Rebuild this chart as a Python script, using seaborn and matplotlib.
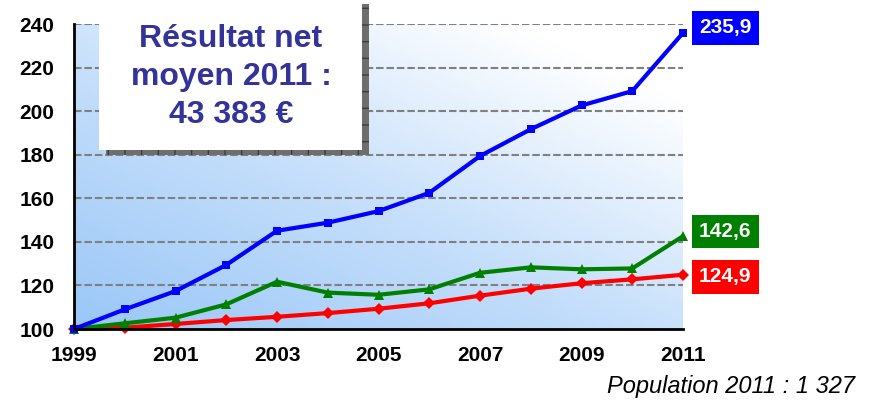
import numpy as np
import pandas as pd
import matplotlib
matplotlib.use("Agg")
import matplotlib.pyplot as plt
from matplotlib.patches import Rectangle
from matplotlib.colors import LinearSegmentedColormap
import seaborn as sns

# --- data -----------------------------------------------------------------
years = list(range(1999, 2012))
indice_bleu = [100, 109.0, 117.4, 129.4, 145.1, 148.8, 154.1, 162.5,
               179.4, 191.7, 202.6, 209.2, 235.9]
indice_vert = [100, 102.6, 105.2, 111.3, 121.7, 116.7, 115.7, 118.2,
               125.8, 128.3, 127.4, 127.8, 142.6]
indice_rouge = [100, 100.6, 102.3, 104.1, 105.6, 107.3, 109.3, 111.8,
                115.3, 118.5, 121.0, 122.8, 124.9]
y_ticks = [100, 120, 140, 160, 180, 200, 220, 240]
x_labels = [str(y) if (y - 1999) % 2 == 0 else "" for y in years]
encadre = "Résultat net\nmoyen 2011 :\n43 383 €"
note = "Population 2011 : 1 327"

sns.set_theme(style="white")
plt.rcParams["font.family"] = ["Liberation Sans", "DejaVu Sans"]
plt.rcParams["hatch.linewidth"] = 1.0

W, H = 881, 403
fig = plt.figure(figsize=(W / 100, H / 100), dpi=100)
ax = fig.add_axes([74 / W, 1 - 329 / H, (683 - 74) / W, (329 - 24) / H])
ax.set_xlim(1999, 2011)
ax.set_ylim(100, 240)

# diagonal blue-to-white gradient behind the plot area
n = 200
xx, yy = np.meshgrid(np.linspace(0, 1, n), np.linspace(0, 1, n))
t = np.clip(0.55 * xx + 0.6 * yy, 0, 1)
cmap = LinearSegmentedColormap.from_list(
    "fond", ["#9ac7f7", "#c4defb", "#ffffff"])
ax.imshow(t, cmap=cmap, origin="lower", aspect="auto",
          extent=(1999, 2011, 100, 240), zorder=0, vmin=0, vmax=1)

# dashed horizontal grid
for v in y_ticks[1:]:
    ax.axhline(v, color="#808080", lw=1.5, ls=(0, (3.6, 1.4)), zorder=1)

series = [
    (indice_rouge, "#ff0000", "D", 6),
    (indice_vert, "#008000", "^", 7),
    (indice_bleu, "#0000ff", "s", 6),
]
for vals, col, mk, ms in series:
    df = pd.DataFrame({"annee": years, "valeur": vals})
    sns.lineplot(data=df, x="annee", y="valeur", ax=ax, color=col, lw=3,
                 marker=mk, markersize=ms, markeredgewidth=0,
                 clip_on=False, zorder=3)

# end-of-line value labels
offsets = {"#0000ff": 5, "#008000": 4.5, "#ff0000": -2}
for vals, col, mk, ms in series:
    ax.annotate(f"{vals[-1]:.1f}".replace(".", ","),
                xy=(years[-1], vals[-1]), xytext=(16, offsets[col]),
                textcoords="offset pixels", ha="left", va="center",
                color="white", fontsize=15, fontweight="bold",
                bbox=dict(boxstyle="square,pad=0.35", fc=col, ec="none"),
                annotation_clip=False, zorder=4)

ax.set_xticks(years)
ax.set_xticklabels(x_labels)
ax.set_yticks(y_ticks)
ax.set_yticklabels([str(v) for v in y_ticks])
ax.tick_params(axis="both", which="major", direction="out", length=6,
               width=1.5, color="black", labelsize=15, labelcolor="black")
ax.tick_params(axis="y", pad=8)
ax.tick_params(axis="x", pad=6)
for lab in ax.get_xticklabels() + ax.get_yticklabels():
    lab.set_fontweight("bold")
ax.set_xlabel("")
ax.set_ylabel("")
for side in ("top", "right"):
    ax.spines[side].set_visible(False)
for side in ("left", "bottom"):
    ax.spines[side].set_color("black")
    ax.spines[side].set_linewidth(2)
    ax.spines[side].set_zorder(5)

# highlighted box with a drop shadow, laid over the chart
def fig_rect(x0, y0, x1, y1, **kw):
    return Rectangle((x0 / W, 1 - y1 / H), (x1 - x0) / W, (y1 - y0) / H,
                     transform=fig.transFigure, **kw)

fig.patches.append(fig_rect(106, 4, 369, 155, fc="#6e6e6e",
                            ec="#3c3c3c", lw=0, hatch="+", zorder=5))
fig.patches.append(fig_rect(99, -2, 362, 150, fc="white", ec="none",
                            zorder=6))
fig.text(231 / W, 1 - 77 / H, encadre, ha="center", va="center",
         multialignment="center", fontsize=23, fontweight="bold",
         color="#333399", linespacing=1.36, zorder=7)

fig.text(855 / W, 1 - 387 / H, note, ha="right", va="center",
         fontsize=17, style="italic", color="black")

fig.savefig("out.png", dpi=100, facecolor="white")
